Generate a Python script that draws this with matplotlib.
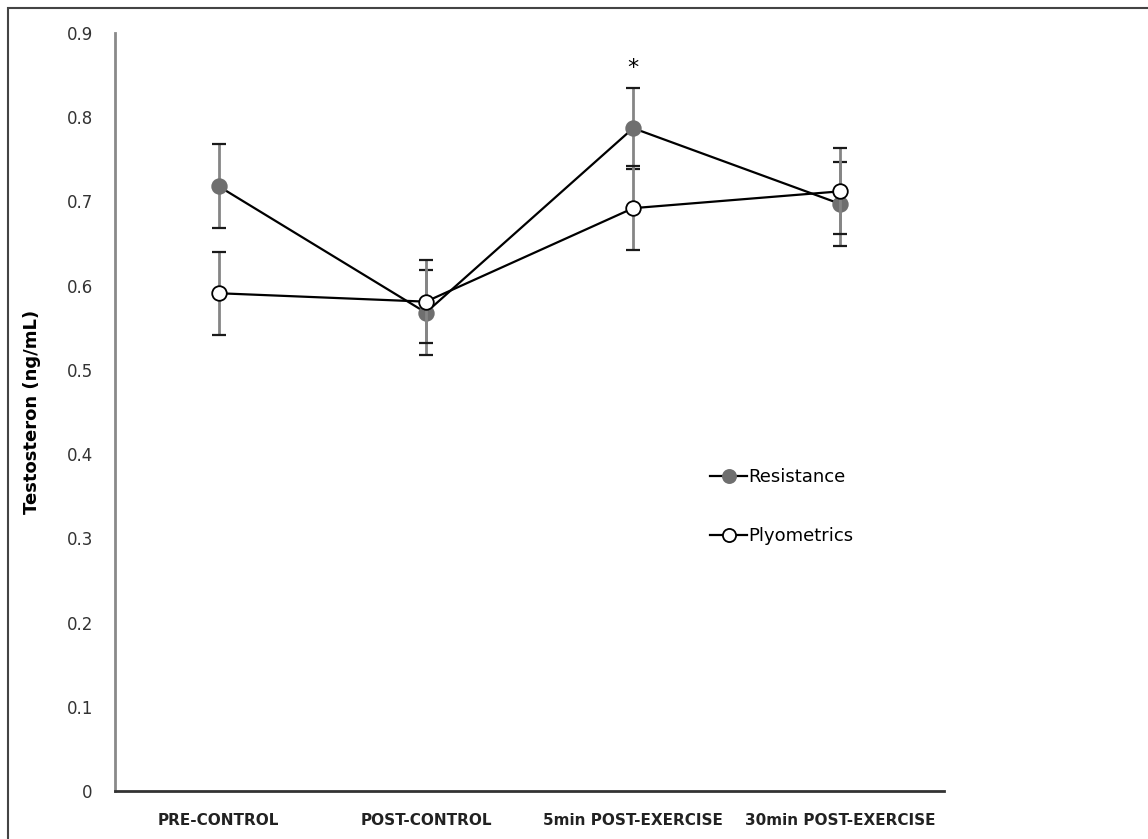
import matplotlib
matplotlib.use("Agg")
from matplotlib import pyplot as plt
from matplotlib.patches import Rectangle

# time points and mean testosterone values
time_points = ["PRE-CONTROL", "POST-CONTROL", "5min POST-EXERCISE", "30min POST-EXERCISE"]
resistance = [0.718, 0.568, 0.787, 0.697]
resistance_err = [0.050, 0.050, 0.048, 0.050]
plyometrics = [0.591, 0.581, 0.692, 0.712]
plyometrics_err = [0.049, 0.049, 0.050, 0.051]
y_ticks = [0, 0.1, 0.2, 0.3, 0.4, 0.5, 0.6, 0.7, 0.8, 0.9]
y_tick_labels = ["0", "0.1", "0.2", "0.3", "0.4", "0.5", "0.6", "0.7", "0.8", "0.9"]

plt.rcParams["font.family"] = ["DejaVu Sans"]

fig = plt.figure(figsize=(11.48, 8.39), dpi=100)
ax = fig.add_axes([0.1002, 0.0572, 0.7221, 0.9035])

# outer frame of the picture (cut off at right and bottom)
fig.patches.append(Rectangle((8 / 1148, -0.1), 1.2, 1 - 8 / 839 + 0.1,
                             transform=fig.transFigure, fill=False,
                             edgecolor="#444444", linewidth=1.5))

x = list(range(len(time_points)))


def draw_series(values, errors, face, label, z):
    eb = ax.errorbar(x, values, yerr=errors, fmt="none", ecolor="#858585",
                     elinewidth=2, capsize=5, capthick=1.6, zorder=z)
    for cap in eb[1]:
        cap.set_markeredgecolor("#1a1a1a")
        cap.set_color("#1a1a1a")
    ax.plot(x, values, color="black", linewidth=1.6, marker="o",
            markersize=10.5, markerfacecolor=face,
            markeredgecolor="black" if face == "white" else face,
            markeredgewidth=1.3, label=label, zorder=z + 1)


draw_series(resistance, resistance_err, "#6f6f6f", "Resistance", 3)
draw_series(plyometrics, plyometrics_err, "white", "Plyometrics", 5)

# significance marker above 5min post-exercise
ax.text(2, resistance[2] + resistance_err[2] + 0.012, "*", ha="center",
        va="bottom", fontsize=16)

ax.set_xlim(-0.5, 3.5)
ax.set_ylim(0, 0.9)
ax.set_yticks(y_ticks)
ax.set_yticklabels(y_tick_labels, fontsize=12, color="#333333")
ax.set_xticks(x)
ax.set_xticklabels(time_points, fontsize=11, fontweight="bold", color="#222222")
ax.tick_params(axis="both", length=0)
ax.tick_params(axis="y", pad=16)
ax.tick_params(axis="x", pad=16)

ax.spines["top"].set_visible(False)
ax.spines["right"].set_visible(False)
ax.spines["left"].set_color("#8a8a8a")
ax.spines["left"].set_linewidth(2)
ax.spines["bottom"].set_color("#333333")
ax.spines["bottom"].set_linewidth(2)

ax.set_ylabel("Testosteron (ng/mL)", fontsize=13, fontweight="bold", labelpad=18)

ax.legend(loc="upper left", bbox_to_anchor=(0.611, 0.453),
          bbox_transform=fig.transFigure, frameon=False, fontsize=13,
          handlelength=2.0, handletextpad=0.1, labelspacing=2.3,
          borderpad=0, markerscale=0.9)

fig.savefig("out.png", dpi=100)
